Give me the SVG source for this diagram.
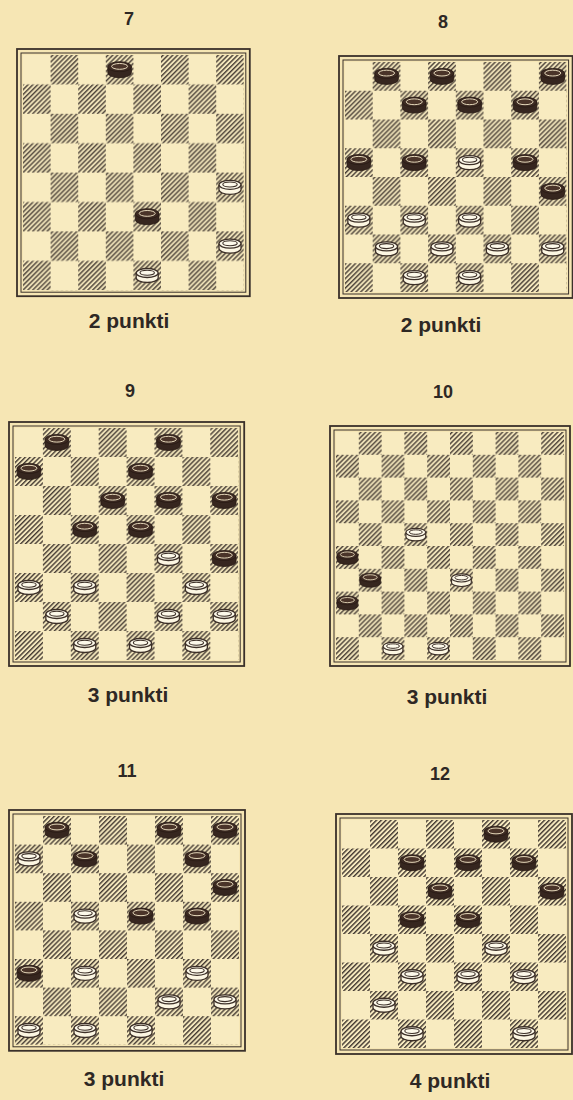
<svg xmlns="http://www.w3.org/2000/svg" xmlns:xlink="http://www.w3.org/1999/xlink" width="573" height="1100" viewBox="0 0 573 1100">
<style>
.fo{fill:none;stroke:#3a302a;stroke-width:1.8}
.fi{fill:none;stroke:#3a302a;stroke-width:1}
.lt{fill:#f8ebc0}
.num{font-family:"Liberation Sans",Arial,sans-serif;font-weight:bold;font-size:18px;fill:#2e2824;text-anchor:middle}
.pts{font-family:"Liberation Sans",Arial,sans-serif;font-weight:bold;font-size:21px;fill:#2e2824;text-anchor:middle}
</style>
<defs>
<pattern id="hatch" patternUnits="userSpaceOnUse" width="3.4" height="3.4" patternTransform="rotate(45)"><rect width="1.4" height="3.4" fill="#40362f"/></pattern>
<pattern id="c7" patternUnits="userSpaceOnUse" x="23" y="55" width="55.2" height="58.8"><rect x="27.6" width="27.6" height="29.4" fill="url(#hatch)"/><rect y="29.4" width="27.6" height="29.4" fill="url(#hatch)"/></pattern>
<pattern id="c8" patternUnits="userSpaceOnUse" x="345" y="62" width="55.4" height="57.5"><rect x="27.7" width="27.7" height="28.75" fill="url(#hatch)"/><rect y="28.75" width="27.7" height="28.75" fill="url(#hatch)"/></pattern>
<pattern id="c9" patternUnits="userSpaceOnUse" x="15" y="428" width="55.8" height="58"><rect x="27.9" width="27.9" height="29" fill="url(#hatch)"/><rect y="29" width="27.9" height="29" fill="url(#hatch)"/></pattern>
<pattern id="c10" patternUnits="userSpaceOnUse" x="336" y="432" width="45.6" height="45.6"><rect x="22.8" width="22.8" height="22.8" fill="url(#hatch)"/><rect y="22.8" width="22.8" height="22.8" fill="url(#hatch)"/></pattern>
<pattern id="c11" patternUnits="userSpaceOnUse" x="15" y="816" width="56" height="57.2"><rect x="28" width="28" height="28.6" fill="url(#hatch)"/><rect y="28.6" width="28" height="28.6" fill="url(#hatch)"/></pattern>
<pattern id="c12" patternUnits="userSpaceOnUse" x="342" y="820" width="56" height="57"><rect x="28" width="28" height="28.5" fill="url(#hatch)"/><rect y="28.5" width="28" height="28.5" fill="url(#hatch)"/></pattern>
<g id="bk">
<path d="M-11.8,-3 v6 a11.8,5 0 0 0 23.6,0 v-6 z" fill="#36261f" stroke="#281a14" stroke-width="0.8"/>
<ellipse cy="-3" rx="11.8" ry="5" fill="#3c2a22" stroke="#281a14" stroke-width="0.8"/>
<ellipse cy="-3.3" rx="8" ry="2.9" fill="#4a3429" stroke="#e6d9bb" stroke-width="1"/>
</g>
<g id="wt">
<path d="M-11,-2.5 v5 a11,4.5 0 0 0 22,0 v-5" fill="#fcf6e2" stroke="#3c2f27" stroke-width="1.3"/>
<ellipse cy="-2.5" rx="11" ry="4.5" fill="#fdf9ea" stroke="#3c2f27" stroke-width="1.3"/>
<ellipse cy="-2.8" rx="7.2" ry="2.5" fill="#fdf9ea" stroke="#3c2f27" stroke-width="1.1"/>
</g>
<g id="bks"><use xlink:href="#bk" transform="scale(0.88)"/></g>
<g id="wts"><use xlink:href="#wt" transform="scale(0.9)"/></g>
</defs>
<rect width="573" height="1100" fill="#f6e6b4"/>

<g id="board7">
<text class="num" x="129" y="25">7</text>
<rect class="lt" x="23" y="55" width="220.8" height="235.2"/>
<rect x="23" y="55" width="220.8" height="235.2" fill="url(#c7)"/>
<rect class="fi" x="21" y="53" width="224.8" height="239.2"/>
<rect class="fo" x="17" y="49" width="232.8" height="247.2"/>
<use xlink:href="#bk" x="119.6" y="69.7"/>
<use xlink:href="#wt" x="230" y="187.3"/>
<use xlink:href="#bk" x="147.2" y="216.7"/>
<use xlink:href="#wt" x="230" y="246.1"/>
<use xlink:href="#wt" x="147.2" y="275.5"/>
<text class="pts" x="129" y="328">2 punkti</text>
</g>

<g id="board8">
<text class="num" x="443" y="28">8</text>
<rect class="lt" x="345" y="62" width="221.6" height="230"/>
<rect x="345" y="62" width="221.6" height="230" fill="url(#c8)"/>
<rect class="fi" x="343" y="60" width="225.6" height="234"/>
<rect class="fo" x="339" y="56" width="233.6" height="242"/>
<use xlink:href="#bk" x="386.55" y="76.4"/>
<use xlink:href="#bk" x="441.95" y="76.4"/>
<use xlink:href="#bk" x="552.75" y="76.4"/>
<use xlink:href="#bk" x="414.25" y="105.1"/>
<use xlink:href="#bk" x="469.65" y="105.1"/>
<use xlink:href="#bk" x="525.05" y="105.1"/>
<use xlink:href="#bk" x="358.85" y="162.6"/>
<use xlink:href="#bk" x="414.25" y="162.6"/>
<use xlink:href="#wt" x="469.65" y="162.6"/>
<use xlink:href="#bk" x="525.05" y="162.6"/>
<use xlink:href="#bk" x="552.75" y="191.4"/>
<use xlink:href="#wt" x="358.85" y="220.1"/>
<use xlink:href="#wt" x="414.25" y="220.1"/>
<use xlink:href="#wt" x="469.65" y="220.1"/>
<use xlink:href="#wt" x="386.55" y="248.9"/>
<use xlink:href="#wt" x="441.95" y="248.9"/>
<use xlink:href="#wt" x="497.35" y="248.9"/>
<use xlink:href="#wt" x="552.75" y="248.9"/>
<use xlink:href="#wt" x="414.25" y="277.6"/>
<use xlink:href="#wt" x="469.65" y="277.6"/>
<text class="pts" x="441" y="332">2 punkti</text>
</g>

<g id="board9">
<text class="num" x="130" y="397">9</text>
<rect class="lt" x="15" y="428" width="223.2" height="232"/>
<rect x="15" y="428" width="223.2" height="232" fill="url(#c9)"/>
<rect class="fi" x="13" y="426" width="227.2" height="236"/>
<rect class="fo" x="9" y="422" width="235.2" height="244"/>
<use xlink:href="#bk" x="56.85" y="442.5"/>
<use xlink:href="#bk" x="168.45" y="442.5"/>
<use xlink:href="#bk" x="28.95" y="471.5"/>
<use xlink:href="#bk" x="140.55" y="471.5"/>
<use xlink:href="#bk" x="112.65" y="500.5"/>
<use xlink:href="#bk" x="168.45" y="500.5"/>
<use xlink:href="#bk" x="224.25" y="500.5"/>
<use xlink:href="#bk" x="84.75" y="529.5"/>
<use xlink:href="#bk" x="140.55" y="529.5"/>
<use xlink:href="#wt" x="168.45" y="558.5"/>
<use xlink:href="#bk" x="224.25" y="558.5"/>
<use xlink:href="#wt" x="28.95" y="587.5"/>
<use xlink:href="#wt" x="84.75" y="587.5"/>
<use xlink:href="#wt" x="196.35" y="587.5"/>
<use xlink:href="#wt" x="56.85" y="616.5"/>
<use xlink:href="#wt" x="168.45" y="616.5"/>
<use xlink:href="#wt" x="224.25" y="616.5"/>
<use xlink:href="#wt" x="84.75" y="645.5"/>
<use xlink:href="#wt" x="140.55" y="645.5"/>
<use xlink:href="#wt" x="196.35" y="645.5"/>
<text class="pts" x="128" y="702">3 punkti</text>
</g>

<g id="board10">
<text class="num" x="443" y="398">10</text>
<rect class="lt" x="336" y="432" width="228" height="228"/>
<rect x="336" y="432" width="228" height="228" fill="url(#c10)"/>
<rect class="fi" x="334" y="430" width="232" height="232"/>
<rect class="fo" x="330" y="426" width="240" height="240"/>
<use xlink:href="#wts" x="415.8" y="534.6"/>
<use xlink:href="#bks" x="347.4" y="557.4"/>
<use xlink:href="#bks" x="370.2" y="580.2"/>
<use xlink:href="#wts" x="461.4" y="580.2"/>
<use xlink:href="#bks" x="347.4" y="603"/>
<use xlink:href="#wts" x="393" y="648.6"/>
<use xlink:href="#wts" x="438.6" y="648.6"/>
<text class="pts" x="447" y="704">3 punkti</text>
</g>

<g id="board11">
<text class="num" x="127" y="777">11</text>
<rect class="lt" x="15" y="816" width="224" height="228.8"/>
<rect x="15" y="816" width="224" height="228.8" fill="url(#c11)"/>
<rect class="fi" x="13" y="814" width="228" height="232.8"/>
<rect class="fo" x="9" y="810" width="236" height="240.8"/>
<use xlink:href="#bk" x="57" y="830.3"/>
<use xlink:href="#bk" x="169" y="830.3"/>
<use xlink:href="#bk" x="225" y="830.3"/>
<use xlink:href="#wt" x="29" y="858.9"/>
<use xlink:href="#bk" x="85" y="858.9"/>
<use xlink:href="#bk" x="197" y="858.9"/>
<use xlink:href="#bk" x="225" y="887.5"/>
<use xlink:href="#wt" x="85" y="916.1"/>
<use xlink:href="#bk" x="141" y="916.1"/>
<use xlink:href="#bk" x="197" y="916.1"/>
<use xlink:href="#bk" x="29" y="973.3"/>
<use xlink:href="#wt" x="85" y="973.3"/>
<use xlink:href="#wt" x="197" y="973.3"/>
<use xlink:href="#wt" x="169" y="1001.9"/>
<use xlink:href="#wt" x="225" y="1001.9"/>
<use xlink:href="#wt" x="29" y="1030.5"/>
<use xlink:href="#wt" x="85" y="1030.5"/>
<use xlink:href="#wt" x="141" y="1030.5"/>
<text class="pts" x="124" y="1086">3 punkti</text>
</g>

<g id="board12">
<text class="num" x="440" y="780">12</text>
<rect class="lt" x="342" y="820" width="224" height="228"/>
<rect x="342" y="820" width="224" height="228" fill="url(#c12)"/>
<rect class="fi" x="340" y="818" width="228" height="232"/>
<rect class="fo" x="336" y="814" width="236" height="240"/>
<use xlink:href="#bk" x="496" y="834.25"/>
<use xlink:href="#bk" x="412" y="862.75"/>
<use xlink:href="#bk" x="468" y="862.75"/>
<use xlink:href="#bk" x="524" y="862.75"/>
<use xlink:href="#bk" x="440" y="891.25"/>
<use xlink:href="#bk" x="552" y="891.25"/>
<use xlink:href="#bk" x="412" y="919.75"/>
<use xlink:href="#bk" x="468" y="919.75"/>
<use xlink:href="#wt" x="384" y="948.25"/>
<use xlink:href="#wt" x="496" y="948.25"/>
<use xlink:href="#wt" x="412" y="976.75"/>
<use xlink:href="#wt" x="468" y="976.75"/>
<use xlink:href="#wt" x="524" y="976.75"/>
<use xlink:href="#wt" x="384" y="1005.25"/>
<use xlink:href="#wt" x="412" y="1033.75"/>
<use xlink:href="#wt" x="524" y="1033.75"/>
<text class="pts" x="450" y="1088">4 punkti</text>
</g>
</svg>
